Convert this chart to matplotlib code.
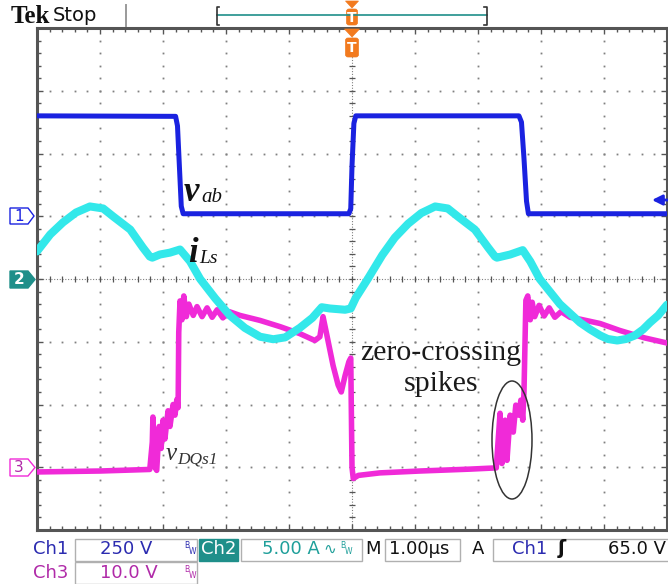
import numpy as np
import matplotlib
matplotlib.use("Agg")
import matplotlib.pyplot as plt
from matplotlib.patches import Polygon, Rectangle, Ellipse, FancyBboxPatch

# ---- channel settings (vertical scale per division and trace position) ----
CH1_SCALE, CH1_POS = 250.0, 1.0    # V/div, div
CH2_SCALE, CH2_POS = 5.0, 0.0      # A/div, div
CH3_SCALE, CH3_POS = 10.0, -3.0    # V/div, div
TIME_PER_DIV = 1.0                 # us/div

# ---- Ch1: bridge voltage v_ab (time in us, value in V) ----
t_vab = [-5.0, -2.80, -2.77, -2.74, -2.71, -2.68, -0.05, -0.02, 0.00, 0.03,
         0.06, 2.65, 2.69, 2.73, 2.77, 2.80, 5.0]
v_vab = [400, 398, 360, 200, 40, 10, 10, 30, 200, 370,
         400, 400, 375, 230, 60, 10, 10]

# ---- Ch2: resonant inductor current i_Ls (time in us, value in A) ----
t_ils = [-5.00, -4.79, -4.59, -4.38, -4.16, -3.95, -3.79, -3.52, -3.32, -3.21,
         -3.17, -3.05, -2.89, -2.73, -2.57, -2.41, -2.17, -1.94, -1.70, -1.46,
         -1.25, -1.06, -0.83, -0.63, -0.48, -0.35, -0.11, -0.02, 0.06, 0.25,
         0.48, 0.68, 0.89, 1.10, 1.32, 1.52, 1.68, 1.95, 2.16, 2.27,
         2.30, 2.51, 2.71, 2.83, 2.98, 3.30, 3.62, 3.78, 3.94, 4.06,
         4.21, 4.35, 4.49, 4.62, 4.73, 4.86, 5.00]
i_ils = [2.2, 3.55, 4.5, 5.3, 5.78, 5.62, 4.98, 3.94, 2.51, 1.79,
         1.7, 1.95, 2.1, 2.35, 1.4, 0.0, -1.55, -2.9, -3.9, -4.6,
         -4.8, -4.65, -3.9, -3.1, -2.25, -2.35, -2.45, -2.35, -1.5, 0.0,
         1.9, 3.3, 4.4, 5.25, 5.78, 5.62, 4.98, 3.94, 2.51, 1.79,
         1.7, 1.95, 2.3, 1.4, 0.0, -2.0, -3.47, -4.02, -4.5, -4.78,
         -4.9, -4.78, -4.5, -4.02, -3.47, -2.9, -2.05]

# ---- Ch3: switch voltage v_DQs1 (time in us, value in V) ----
t_vds = [-5.00, -4.00, -3.21, -3.17, -3.16, -3.13, -3.10, -3.06, -3.03, -3.00,
         -2.97, -2.92, -2.89, -2.84, -2.81, -2.78, -2.76, -2.75, -2.73, -2.70,
         -2.67, -2.63, -2.59, -2.52, -2.46, -2.38, -2.30, -2.22, -2.14, -2.05,
         -1.95, -1.78, -1.46, -1.14, -0.83, -0.59, -0.51, -0.46, -0.41, -0.30,
         -0.22, -0.17, -0.11, -0.05, -0.02, 0.00, 0.02, 0.10, 0.44, 1.08,
         1.87, 2.29, 2.32, 2.35, 2.38, 2.43, 2.46, 2.51, 2.56, 2.60,
         2.65, 2.68, 2.71, 2.73, 2.75, 2.76, 2.79, 2.83, 2.86, 2.90,
         2.97, 3.05, 3.13, 3.22, 3.32, 3.46, 3.62, 3.94, 4.25, 4.65, 5.00]
v_vds = [-0.75, -0.6, -0.35, 4.0, 8.0, 0.0, -0.5, 6.5, 3.0, 7.5,
         4.5, 9.0, 6.5, 10.0, 8.3, 10.8, 9.5, 21.5, 26.5, 23.5,
         27.3, 24.0, 26.0, 24.2, 25.6, 24.0, 25.4, 23.9, 25.1, 23.8,
         24.8, 24.2, 23.4, 22.4, 21.3, 20.2, 20.8, 24.0, 21.6, 16.2,
         13.1, 12.0, 14.6, 16.8, 17.4, 0.0, -1.8, -1.3, -0.9, -0.6,
         -0.3, -0.1, 4.3, 8.6, 0.6, 7.5, 1.1, 8.3, 5.6, 9.9,
         8.3, 10.7, 7.5, 12.0, 21.8, 26.6, 27.3, 23.5, 26.3, 24.0,
         25.8, 24.1, 25.4, 23.9, 24.8, 23.9, 23.6, 22.9, 21.8, 20.6, 19.8]

# ---- colours ----
BLUE = "#1a22e0"
CYAN = "#33e8ea"
MAGENTA = "#f02ad8"
TEAL = "#1f8f8a"
TEAL_TXT = "#1f9f9a"
CH1_TXT = "#2b2bb0"
CH3_TXT = "#b02aa8"
ORANGE = "#f27a1e"
FRAME = "#555555"
DOT = "#808080"

W, H = 668, 584
fig = plt.figure(figsize=(W / 100, H / 100), dpi=100)
fig.patch.set_facecolor("white")

# graticule area in pixels
GL, GR, GT, GB = 37, 667, 28, 530
ax = fig.add_axes([GL / W, 1 - GB / H, (GR - GL) / W, (GB - GT) / H])
ax.set_xlim(-5, 5)
ax.set_ylim(-4, 4)
ax.set_facecolor("white")

for side in ("left", "top", "bottom", "right"):
    ax.spines[side].set_color(FRAME)
    ax.spines[side].set_linewidth(2.2)
ax.set_xticks(np.arange(-5, 5.01, 1))
ax.set_yticks(np.arange(-4, 4.01, 1))
ax.set_xticks(np.arange(-5, 5.01, 0.2), minor=True)
ax.set_yticks(np.arange(-4, 4.01, 0.2), minor=True)
ax.tick_params(which="both", direction="in", top=True, right=True,
               labelbottom=False, labelleft=False, color=FRAME, width=1)
ax.tick_params(which="major", length=4)
ax.tick_params(which="minor", length=3)

# dotted graticule
sub_y = np.arange(-4, 4.001, 0.2)
sub_x = np.arange(-5, 5.001, 0.2)
for gx in range(-4, 5):
    if gx == 0:
        continue
    ax.plot(np.full_like(sub_y, gx), sub_y, ls="none", marker="s",
            ms=1.3, mew=0, color=DOT, zorder=1)
for gy in range(-3, 4):
    if gy == 0:
        continue
    ax.plot(sub_x, np.full_like(sub_x, gy), ls="none", marker="s",
            ms=1.3, mew=0, color=DOT, zorder=1)
# centre cross-hair with tick marks
ax.axhline(0, color=DOT, lw=0.8, ls=(0, (1, 1.5)), zorder=1)
ax.axvline(0, color=DOT, lw=0.8, ls=(0, (1, 1.5)), zorder=1)
ax.plot(sub_x, np.zeros_like(sub_x), ls="none", marker="|", ms=5,
        mew=0.9, color=FRAME, zorder=1)
ax.plot(np.zeros_like(sub_y), sub_y, ls="none", marker="_", ms=5,
        mew=0.9, color=FRAME, zorder=1)

# traces
tv = np.array(t_vab) / TIME_PER_DIV
ti = np.array(t_ils) / TIME_PER_DIV
td = np.array(t_vds) / TIME_PER_DIV
ax.plot(td, np.array(v_vds) / CH3_SCALE + CH3_POS, color=MAGENTA, lw=4.0,
        solid_joinstyle="round", zorder=3)
ax.plot(tv, np.array(v_vab) / CH1_SCALE + CH1_POS, color=BLUE, lw=3.6,
        solid_joinstyle="round", zorder=4)
ax.plot(ti, np.array(i_ils) / CH2_SCALE + CH2_POS, color=CYAN, lw=5.8,
        solid_joinstyle="round", solid_capstyle="round", zorder=5)

# ---- overlay in pixel coordinates ----
ov = fig.add_axes([0, 0, 1, 1])
ov.set_xlim(0, W)
ov.set_ylim(H, 0)
ov.axis("off")
ov.patch.set_alpha(0)

SERIF = "Liberation Serif"
SANS = "DejaVu Sans"

# trace labels
ov.text(184, 201, "v", family=SERIF, weight="bold", style="italic",
        fontsize=25, color="#111111", va="baseline")
ov.text(201, 202, "ab", family=SERIF, style="italic", fontsize=15,
        color="#111111", va="baseline")
ov.text(188, 262, "i", family=SERIF, weight="bold", style="italic",
        fontsize=25, color="#111111", va="baseline")
ov.text(199, 263, "Ls", family=SERIF, style="italic", fontsize=14,
        color="#111111", va="baseline")
ov.text(166, 460, "v", family=SERIF, style="italic", fontsize=18,
        color="#333333", va="baseline")
ov.text(177, 464, "DQs1", family=SERIF, style="italic", fontsize=12.5,
        color="#333333", va="baseline")
ov.text(360, 360, "zero-crossing", family=SERIF, fontsize=21.5,
        color="#1a1a1a", va="baseline")
ov.text(404, 391, "spikes", family=SERIF, fontsize=21.5,
        color="#1a1a1a", va="baseline")
ov.add_patch(Ellipse((512, 440), 40, 118, fill=False, ec="#333333", lw=1.1))

# channel ground markers
ov.add_patch(Polygon([(10, 208), (28, 208), (34, 216), (28, 224), (10, 224)],
                     closed=True, fc="white", ec=BLUE, lw=1.0))
ov.text(19, 216.5, "1", family=SANS, fontsize=11, color=BLUE,
        ha="center", va="center")
ov.add_patch(Polygon([(10, 271), (28, 271), (35, 279.5), (28, 288), (10, 288)],
                     closed=True, fc=TEAL, ec=TEAL, lw=1.0))
ov.text(19, 280, "2", family=SANS, fontsize=11, weight="bold", color="white",
        ha="center", va="center")
ov.add_patch(Polygon([(10, 459), (28, 459), (35, 467.5), (28, 476), (10, 476)],
                     closed=True, fc="white", ec=MAGENTA, lw=1.0))
ov.text(19, 468, "3", family=SANS, fontsize=11, color=CH3_TXT,
        ha="center", va="center")

# trigger level arrow on the right edge
ov.annotate("", xy=(652, 200), xytext=(668, 200),
            arrowprops=dict(arrowstyle="-|>", color=BLUE, lw=2.0,
                            mutation_scale=15, shrinkA=0, shrinkB=0))

# header
ov.text(11, 23, "Tek", family=SERIF, weight="bold", fontsize=18,
        color="#111111", va="baseline")
ov.text(53, 21, "Stop", family=SANS, fontsize=14, color="#111111",
        va="baseline")
ov.plot([126, 126], [5, 26], color="#9a9a9a", lw=1.4)
ov.plot([217, 487], [15, 15], color=TEAL, lw=1.2)
ov.plot([219, 216.5, 216.5, 219], [7, 7, 25, 25], color="#333333", lw=1.2)
ov.plot([484, 486.5, 486.5, 484], [7, 7, 25, 25], color="#333333", lw=1.2)


def trig_marker(cx, y_tri, y_box_top, y_box_bot, half):
    ov.add_patch(Polygon([(cx - half, y_tri), (cx + half, y_tri),
                          (cx, y_box_top - 1)], closed=True, fc=ORANGE,
                         ec=ORANGE, lw=0.5))
    ov.add_patch(FancyBboxPatch((cx - half + 1, y_box_top),
                                2 * half - 2, y_box_bot - y_box_top,
                                boxstyle="round,pad=0,rounding_size=2.5",
                                fc=ORANGE, ec=ORANGE, lw=0.5))
    ov.text(cx, (y_box_top + y_box_bot) / 2 + 0.5, "T", family=SANS,
            weight="bold", fontsize=10, color="white", ha="center",
            va="center")


trig_marker(352, 1, 9, 25, 6.5)
trig_marker(352, 29, 38, 57, 7.5)

# status bar
BOX = "#b0b0b0"
R1, R2 = 549, 573


def box(x0, x1, y0, y1):
    ov.add_patch(Rectangle((x0, y0), x1 - x0, y1 - y0, fc="white",
                           ec=BOX, lw=1.0))


def bw(x, y, color):
    ov.text(x, y - 3, "B", family=SANS, fontsize=5.5, color=color,
            ha="left", va="center")
    ov.text(x + 5, y + 3, "W", family=SANS, fontsize=5.5, color=color,
            ha="left", va="center")


box(75, 197, 539, 561)
box(75, 197, 562, 584)
box(241, 362, 539, 561)
box(385, 460, 539, 561)
box(493, 672, 539, 561)
ov.add_patch(Rectangle((199, 539), 39, 22, fc=TEAL, ec=TEAL, lw=1.0))

FS = 13
ov.text(33, R1, "Ch1", family=SANS, fontsize=FS, color=CH1_TXT, va="center")
ov.text(100, R1, "250 V", family=SANS, fontsize=FS, color=CH1_TXT,
        va="center")
bw(184, R1, CH1_TXT)
ov.text(218.5, R1, "Ch2", family=SANS, fontsize=FS, color="white",
        ha="center", va="center")
ov.text(262, R1, "5.00 A", family=SANS, fontsize=FS, color=TEAL_TXT,
        va="center")
ov.text(323, R1, "\u223f", family=SANS, fontsize=11, color=TEAL_TXT,
        va="center")
bw(340, R1, TEAL_TXT)
ov.text(365, R1, "M", family=SANS, fontsize=FS, color="#111111",
        va="center")
ov.text(389, R1, "1.00\u00b5s", family=SANS, fontsize=FS, color="#111111",
        va="center")
ov.text(472, R1, "A", family=SANS, fontsize=FS, color="#111111",
        va="center")
ov.text(512, R1, "Ch1", family=SANS, fontsize=FS, color=CH1_TXT,
        va="center")
ov.text(562, R1, "\u0283", family=SANS, fontsize=14, weight="bold",
        color="#111111", ha="center", va="center")
ov.text(666, R1, "65.0 V", family=SANS, fontsize=FS, color="#111111",
        ha="right", va="center")
ov.text(33, R2, "Ch3", family=SANS, fontsize=FS, color=CH3_TXT, va="center")
ov.text(100, R2, "10.0 V", family=SANS, fontsize=FS, color=CH3_TXT,
        va="center")
bw(184, R2, CH3_TXT)

fig.savefig("out.png", dpi=100, facecolor="white")
